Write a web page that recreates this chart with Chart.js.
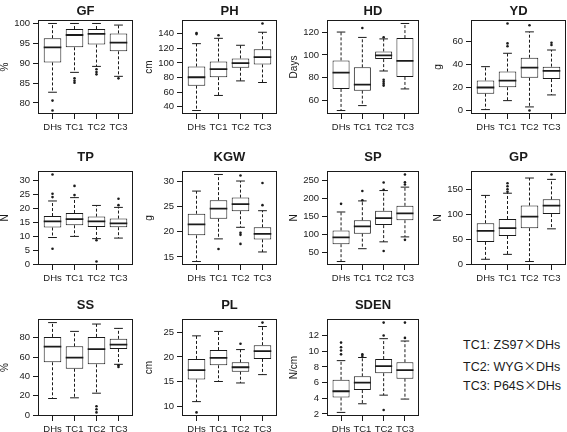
<!DOCTYPE html>
<html><head><meta charset="utf-8">
<script src="https://cdn.jsdelivr.net/npm/chart.js@4.4.1/dist/chart.umd.min.js"></script>
<style>
html,body{margin:0;padding:0;background:#fff;overflow:hidden;width:567px;height:432px;}
canvas{position:absolute;}
.leg{position:absolute;left:463px;font-size:12.5px;line-height:15px;font-family:"Liberation Sans",Arial,sans-serif;color:#1a1a1a;white-space:nowrap;}
.leg .x{font-family:"Noto Sans CJK SC",sans-serif;}
</style></head><body>
<div class="leg" style="top:336px">TC1: ZS97<span class="x">×</span>DHs</div>
<div class="leg" style="top:357.5px">TC2: WYG<span class="x">×</span>DHs</div>
<div class="leg" style="top:377px">TC3: P64S<span class="x">×</span>DHs</div>
<script>
// ---- data ----
const groups = ['DHs','TC1','TC2','TC3'];
// each box: [lower whisker, Q1, median, Q3, upper whisker]
const GF_box = [[82.7,90.2,94.0,96.3,100.0],[87.7,94.0,97.1,98.6,100.0],[89.2,94.7,97.4,98.6,100.0],[86.7,93.0,95.2,97.5,99.6]];
const GF_out = [[80.6,78.1],[86.2,85.6,85.1],[88.5,87.8,87.2],[86.2]];
const GF_ticks = [80,85,90,95,100];

const PH_box = [[35,69,80.5,95.2,126.4],[55.6,80.6,91.5,102,133.7],[75.5,93.5,99.9,106.2,124.2],[73.3,98,108,118.8,142]];
const PH_out = [[141,139.5],[138],[],[154]];
const PH_ticks = [40,60,80,100,120,140];

const HD_box = [[51.3,70.2,84.5,95.2,120],[55.6,68.7,74,89.1,115.3],[85.9,96.3,99.6,103,114],[70.2,80.7,94.7,114.7,127.5]];
const HD_out = [[],[123.5],[115.5,78.3,76.5,74.8,73.1],[]];
const HD_ticks = [60,80,100,120];

const YD_box = [[1.1,14.8,20.1,26.1,38],[8.8,20.3,26,33.8,49.5],[3.4,28.4,37.2,45.7,67.9],[13.7,27.3,34.4,38,52.3]];
const YD_out = [[],[75.1,58,55.5],[73.6,0.3],[58.5,56.6]];
const YD_ticks = [0,20,40,60];

const TP_box = [[9.6,13.2,15.4,17.3,22.7],[10,14,16.2,18.4,23.9],[9.2,13.4,15.4,17.1,21.1],[9.4,13.3,14.7,16.4,20.4]];
const TP_out = [[32.2,25.3,24.1,5.6],[28.1,24.8],[8.6,1],[23.5,21.2]];
const TP_ticks = [0,5,10,15,20,25,30];

const KGW_box = [[14.1,19.3,21.5,23.6,28.1],[18.6,22.6,24.6,26.3,31.4],[20.9,24.1,25.5,26.8,30.1],[16,18.5,19.6,20.9,24.2]];
const KGW_out = [[],[16.6],[31.2,19.8,19.4,17.6],[29.7,25.3]];
const KGW_ticks = [15,20,25,30];

const SP_box = [[23.4,71.9,91.2,110.5,162],[59.3,101.4,121.6,139,193],[78.5,125.3,144.6,165.5,222],[92.3,139,158,179.3,231.6]];
const SP_out = [[184.8],[220.6,195],[244.5,224,52.7],[267,245.4,239,84]];
const SP_ticks = [50,100,150,200,250];

const GP_box = [[9.8,44.6,66.7,82,137.6],[19.6,56.4,72,90.4,142],[5.3,72.1,95,117.3,172.4],[70.7,100.2,117,129.7,169.7]];
const GP_out = [[],[162,156,150,145],[],[179.5]];
const GP_ticks = [0,50,100,150];

const SS_box = [[17.2,54.7,70.9,81,95.8],[17.9,48,59.6,71.2,86.7],[22.7,52.6,68.4,81,94.3],[52.6,68.4,73,79,89.8]];
const SS_out = [[],[],[9.1,6,2.8],[51.6,49.8]];
const SS_ticks = [0,20,40,60,80];

const PL_box = [[10.9,15.4,17.3,19.6,24.3],[15,18.3,19.8,21.4,25.2],[14.7,17,17.9,18.9,21.5],[16.4,19.6,21.2,22.4,26.2]];
const PL_out = [[8.7],[],[22.7],[27]];
const PL_ticks = [10,15,20,25];

const SDEN_box = [[2.2,4.1,4.9,6.35,8.8],[3.3,5.05,6,6.8,9.2],[4.4,7.2,8.1,9,11.6],[3.9,6.5,7.6,8.6,11.3]];
const SDEN_out = [[11.1,10.5,10.1,9.6],[9.6,9.4],[13.65,12,2.5],[13.65,11.7]];
const SDEN_ticks = [2,4,6,8,10,12];

const panels = [
  {name:'GF', unit:'%', box:GF_box, out:GF_out, ticks:GF_ticks, col:0, row:0},
  {name:'PH', unit:'cm', box:PH_box, out:PH_out, ticks:PH_ticks, col:1, row:0},
  {name:'HD', unit:'Days', box:HD_box, out:HD_out, ticks:HD_ticks, col:2, row:0},
  {name:'YD', unit:'g', box:YD_box, out:YD_out, ticks:YD_ticks, col:3, row:0},
  {name:'TP', unit:'N', box:TP_box, out:TP_out, ticks:TP_ticks, col:0, row:1},
  {name:'KGW', unit:'g', box:KGW_box, out:KGW_out, ticks:KGW_ticks, col:1, row:1},
  {name:'SP', unit:'N', box:SP_box, out:SP_out, ticks:SP_ticks, col:2, row:1},
  {name:'GP', unit:'N', box:GP_box, out:GP_out, ticks:GP_ticks, col:3, row:1},
  {name:'SS', unit:'%', box:SS_box, out:SS_out, ticks:SS_ticks, col:0, row:2},
  {name:'PL', unit:'cm', box:PL_box, out:PL_out, ticks:PL_ticks, col:1, row:2},
  {name:'SDEN', unit:'N/cm', box:SDEN_box, out:SDEN_out, ticks:SDEN_ticks, col:2, row:2}
];

// ---- layout ----
const colL=[38,182,327,471], colR=[133,277,419,566];
const rowT=[20,171,319], rowB=[114,265,416];
const titleOff=[8.3,14,13.2];
const AXW=46, TITLEH=24, XAXH=26;
const INK='#1a1a1a', FF='"Liberation Sans", Arial, sans-serif', FS=9.5;

const framePlugin={id:'frame', afterDatasetsDraw(chart){
  const a=chart.chartArea, c=chart.ctx;
  c.save(); c.strokeStyle=INK; c.lineWidth=1;
  c.strokeRect(Math.round(a.left)+0.5, Math.round(a.top)+0.5, Math.round(a.right-a.left)-1, Math.round(a.bottom-a.top)-1);
  c.restore();
}};

panels.forEach(p=>{
  const l=colL[p.col], r=colR[p.col], t=rowT[p.row], b=rowB[p.row];
  const W=r-l, H=b-t;
  const cv=document.createElement('canvas');
  const cw=W+2*AXW, ch=H+TITLEH+XAXH;
  cv.width=cw; cv.height=ch;
  cv.style.left=(l-AXW)+'px'; cv.style.top=(t-TITLEH)+'px';
  cv.style.width=cw+'px'; cv.style.height=ch+'px';
  document.body.appendChild(cv);

  const all=[];
  p.box.forEach(bx=>all.push(bx[0],bx[4]));
  p.out.forEach(o=>all.push(...o));
  const mn=Math.min(...all), mx=Math.max(...all), ext=(mx-mn)*0.04;

  const med=[], box=[], whisk=[], caps=[], outs=[];
  p.box.forEach((bx,i)=>{
    const x=i+1;
    box.push({x:x, y:[bx[1],bx[3]]});
    med.push({x:x-0.4,y:bx[2]},{x:x+0.4,y:bx[2]},{x:x+0.4,y:null});
    whisk.push({x:x,y:bx[3]},{x:x,y:bx[4]},{x:x,y:null},{x:x,y:bx[1]},{x:x,y:bx[0]},{x:x,y:null});
    caps.push({x:x-0.2,y:bx[4]},{x:x+0.2,y:bx[4]},{x:x+0.2,y:null},{x:x-0.2,y:bx[0]},{x:x+0.2,y:bx[0]},{x:x+0.2,y:null});
    p.out[i].forEach(v=>outs.push({x:x,y:v}));
  });

  const tfs=13, tlh=tfs*1.2;
  const padTop=TITLEH-titleOff[p.row]-tlh/2;
  const tickFont={size:FS, family:FF};
  new Chart(cv.getContext('2d'),{
    type:'bar',
    data:{datasets:[
      {type:'line', data:med, borderColor:INK, borderWidth:1.8, pointRadius:0, spanGaps:false, tension:0},
      {type:'bar', data:box, backgroundColor:'#ffffff', borderColor:INK, borderWidth:1, borderSkipped:false, barPercentage:0.8, categoryPercentage:1},
      {type:'line', data:whisk, borderColor:INK, borderWidth:1, borderDash:[3,2], pointRadius:0, spanGaps:false, tension:0},
      {type:'line', data:caps, borderColor:INK, borderWidth:1, pointRadius:0, spanGaps:false, tension:0},
      {type:'line', data:outs, showLine:false, pointRadius:1.3, pointBackgroundColor:INK, pointBorderWidth:0, borderColor:INK}
    ]},
    options:{
      responsive:false, animation:false, devicePixelRatio:1,
      layout:{padding:0},
      plugins:{legend:{display:false}, tooltip:{enabled:false},
        title:{display:true, text:p.name, color:INK, font:{size:tfs, weight:'bold', family:FF, lineHeight:1.2}, padding:{top:padTop,bottom:TITLEH-tlh-padTop}}},
      scales:{
        x:{type:'linear', min:0.34, max:4.66, offset:false,
          afterBuildTicks:s=>{s.ticks=groups.map((g,i)=>({value:i+1}));},
          ticks:{callback:(v,i)=>groups[i], autoSkip:false, maxRotation:0, minRotation:0, padding:3, color:INK, font:tickFont},
          grid:{display:true, drawOnChartArea:false, drawTicks:true, tickLength:5, color:INK, offset:false},
          border:{display:false},
          afterFit:s=>{s.height=XAXH;}},
        y:{type:'linear', position:'left', min:mn-ext, max:mx+ext,
          afterBuildTicks:s=>{s.ticks=p.ticks.map(v=>({value:v}));},
          ticks:{padding:3, color:INK, font:tickFont},
          grid:{display:true, drawOnChartArea:false, drawTicks:true, tickLength:5, color:INK},
          border:{display:false},
          title:{display:true, text:p.unit, color:INK, font:{size:10, family:FF}, padding:{top:7,bottom:0}},
          afterFit:s=>{s.width=AXW;}},
        yR:{type:'linear', position:'right', display:true, min:0, max:1,
          ticks:{display:false}, grid:{display:false}, border:{display:false},
          afterFit:s=>{s.width=AXW;}}
      }
    },
    plugins:[framePlugin]
  });
});
</script>
</body></html>
